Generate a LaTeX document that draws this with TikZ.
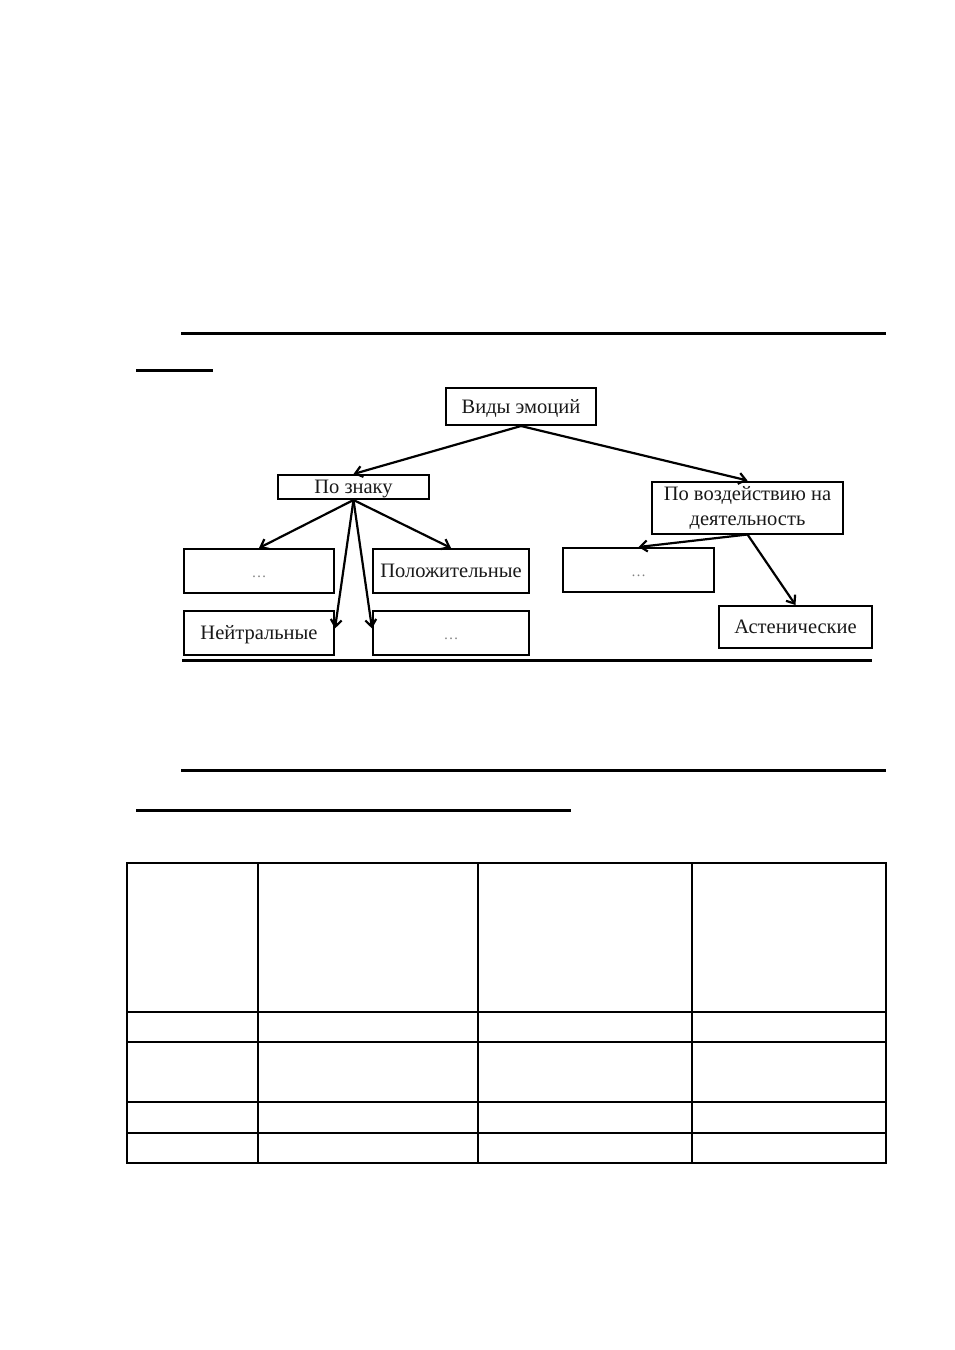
\documentclass[tikz,border=0pt]{standalone}
\usepackage{fontspec}
\setmainfont{Liberation Serif}
\usetikzlibrary{arrows.meta,calc}
\newcommand{\dotsmark}{\textcolor{black!50}{\fontsize{15}{16}\selectfont …}}
\begin{document}
\begin{tikzpicture}[x=1pt,y=-1pt,
  box/.style={draw=black,line width=2pt,inner sep=0pt,text=black!90,font=\fontsize{20.5}{25}\selectfont},
  one/.style={box,text height=13.5pt,text depth=0pt},
  arr/.style={line width=2.2pt,-{Straight Barb[length=7pt,width=11pt,line width=2.2pt]}},
  rule/.style={line width=3pt},
  grid/.style={line width=1.5pt}]
\useasboundingbox (0,0) rectangle (954,1350);
% rules above diagram
\draw[rule] (181,333) -- (886,333);
\draw[rule] (136,370) -- (213,370);
% diagram nodes
\node[one,minimum width=150pt,minimum height=37pt] (vid) at (521,406.5) {Виды эмоций};
\node[one,minimum width=151pt,minimum height=24pt] (znak) at (353.5,487) {По знаку};
\node[box,align=center,minimum width=191pt,minimum height=52pt] (vozd) at (747.5,507.5) {По воздействию на\\деятельность};
\node[one,minimum width=150pt,minimum height=44pt] (d1) at (259,571) {\dotsmark};
\node[one,minimum width=156pt,minimum height=44pt] (pol) at (451,571) {Положительные};
\node[one,minimum width=150pt,minimum height=44pt] (neit) at (259,633) {Нейтральные};
\node[one,minimum width=156pt,minimum height=44pt] (d2) at (451,633) {\dotsmark};
\node[one,minimum width=151pt,minimum height=44pt] (d3) at (638.5,570) {\dotsmark};
\node[one,minimum width=153pt,minimum height=42pt] (ast) at (795.5,627) {Астенические};
% connectors
\draw[arr] (vid.south) -- (znak.north);
\draw[arr] (vid.south) -- (vozd.north);
\draw[arr] (znak.south) -- (d1.north);
\draw[arr] (znak.south) -- (pol.north);
\draw[arr] (znak.south) -- ($(neit.north east)!0.4!(neit.south east)$);
\draw[arr] (znak.south) -- ($(d2.north west)!0.4!(d2.south west)$);
\draw[arr] (vozd.south) -- (d3.north);
\draw[arr] (vozd.south) -- (ast.north);
% rules below diagram
\draw[rule] (182,660) -- (872,660);
\draw[rule] (181,770) -- (886,770);
\draw[rule] (136,810) -- (571,810);
% table
\draw[grid] (127,863) rectangle (886,1163);
\foreach \x in {258,478,692} \draw[grid] (\x,863) -- (\x,1163);
\foreach \y in {1012,1042,1102,1133} \draw[grid] (127,\y) -- (886,\y);
\end{tikzpicture}
\end{document}
